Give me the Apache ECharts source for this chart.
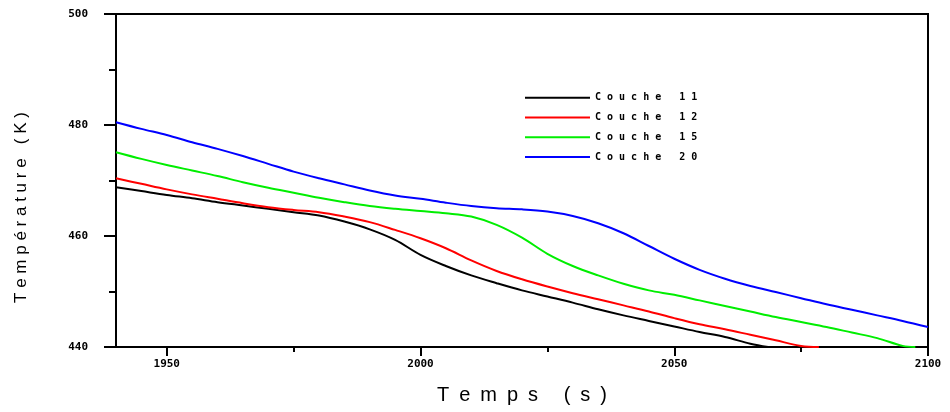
<!DOCTYPE html>
<html>
<head>
<meta charset="utf-8">
<script src="https://cdn.jsdelivr.net/npm/echarts@6.0.0/dist/echarts.min.js"></script>
<style>
  html, body { margin: 0; padding: 0; background: #fff; }
  #chart { width: 950px; height: 412px; }
</style>
</head>
<body>
<div id="chart"></div>
<script>
// ---- data ----
const times = [1940,1945,1950,1955,1960,1965,1970,1975,1980,1985,1990,1995,2000,2005,2010,2015,2020,
               2025,2030,2035,2040,2045,2050,2055,2060,2065,2070,2075,2080,2085,2090,2095,2100];

const couche11 = [468.8,468.1,467.4,466.8,466.1,465.5,464.9,464.3,463.7,462.6,461.2,459.3,456.6,454.6,
                  452.9,451.5,450.2,449.1,448.0,446.8,445.7,444.7,443.7,442.7,441.8,440.6];
const couche11End = [2068.5, 440];

const couche12 = [470.4,469.4,468.4,467.5,466.7,465.9,465.2,464.7,464.3,463.5,462.5,461.1,459.6,457.8,
                  455.6,453.7,452.2,450.9,449.7,448.6,447.5,446.4,445.2,444.1,443.2,442.2,441.2,440.2];
const couche12End = [2078.5, 440];

const couche15 = [475.1,473.9,472.8,471.8,470.8,469.7,468.7,467.8,466.9,466.1,465.4,464.9,464.5,464.1,
                  463.5,462.0,459.7,456.8,454.6,452.9,451.4,450.2,449.4,448.4,447.4,446.4,445.4,444.5,
                  443.6,442.6,441.6,440.2];
const couche15End = [2097.5, 440];

const couche20 = [480.5,479.3,478.2,476.9,475.7,474.4,473.0,471.6,470.4,469.3,468.2,467.3,466.7,466.0,
                  465.4,465.0,464.8,464.4,463.6,462.3,460.5,458.2,455.9,453.9,452.3,451.0,449.9,448.8,
                  447.7,446.7,445.7,444.7,443.6];

const seriesNames = ['Couche 11', 'Couche 12', 'Couche 15', 'Couche 20'];
const xTicks = [1950, 2000, 2050, 2100];
const xMinorTicks = [1975, 2025, 2075];
const yTicks = [440, 460, 480, 500];
const xTitle = 'Temps (s)';
const yTitle = 'Température (K)';

// ---- build ----
function pairs(vals, end) {
  const d = vals.map((v, i) => [times[i], v]);
  if (end) d.push(end);
  return d;
}
function spaced(s, sep) { return Array.from(s).join(sep); }

const colors = ['#000000', '#ff0000', '#00ee00', '#0000ff'];
const dataSets = [pairs(couche11, couche11End), pairs(couche12, couche12End),
                  pairs(couche15, couche15End), pairs(couche20)];

const chart = echarts.init(document.getElementById('chart'), null, { renderer: 'canvas' });
const tickFont = { color: '#000', fontFamily: 'DejaVu Sans Mono', fontWeight: 'bold', fontSize: 11 };

chart.setOption({
  animation: false,
  backgroundColor: '#ffffff',
  grid: {
    left: 116, right: 22, top: 14, bottom: 65,
    show: true, borderColor: '#000', borderWidth: 2,
    outerBoundsMode: 'none'
  },
  legend: {
    orient: 'vertical',
    left: 525, top: 88, padding: 0,
    icon: 'rect',
    itemWidth: 65, itemHeight: 2, itemGap: 0,
    data: seriesNames,
    formatter: (n) => spaced(n, ' '),
    textStyle: { color: '#000', fontFamily: 'DejaVu Sans Mono', fontWeight: 'bold', fontSize: 10,
                 lineHeight: 19.7 }
  },
  xAxis: [{
    type: 'value', min: 1940, max: 2100,
    axisLine: { show: true, lineStyle: { color: '#000', width: 2 } },
    axisTick: { show: true, length: 9, customValues: xTicks, lineStyle: { color: '#000', width: 2 } },
    axisLabel: Object.assign({ margin: 12, customValues: xTicks, formatter: (v) => String(v) }, tickFont),
    splitLine: { show: false },
    name: spaced(xTitle, '\u2002'),
    nameLocation: 'middle', nameGap: 38,
    nameTextStyle: { color: '#000', fontFamily: 'Liberation Sans', fontSize: 20 }
  }, {
    type: 'value', min: 1940, max: 2100, position: 'bottom',
    axisLine: { show: false },
    axisTick: { show: true, length: 5, customValues: xMinorTicks, lineStyle: { color: '#000', width: 2 } },
    axisLabel: { show: false },
    splitLine: { show: false }
  }],
  yAxis: {
    type: 'value', min: 440, max: 500, interval: 20,
    axisLine: { show: true, lineStyle: { color: '#000', width: 2 } },
    axisTick: { show: true, length: 12, lineStyle: { color: '#000', width: 2 } },
    minorTick: { show: true, splitNumber: 2, length: 7, lineStyle: { color: '#000', width: 2 } },
    axisLabel: Object.assign({ margin: 28, customValues: yTicks, formatter: (v) => String(v) }, tickFont),
    splitLine: { show: false },
    minorSplitLine: { show: false },
    name: spaced(yTitle, ' '),
    nameLocation: 'middle', nameGap: 86, nameRotate: 90,
    nameTextStyle: { color: '#000', fontFamily: 'Liberation Sans', fontSize: 17, padding: [0, 54, 0, 0] }
  },
  series: seriesNames.map((n, i) => ({
    name: n, type: 'line', xAxisIndex: 0,
    data: dataSets[i],
    symbol: 'none', showSymbol: false,
    smooth: 0.35,
    clip: true,
    lineStyle: { color: colors[i], width: 2 },
    itemStyle: { color: colors[i] }
  }))
});
</script>
</body>
</html>
